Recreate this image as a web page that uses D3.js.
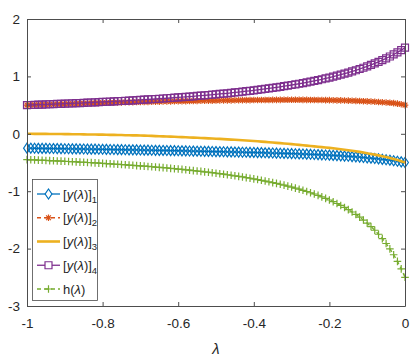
<!DOCTYPE html>
<html>
<head>
<meta charset="utf-8">
<script src="https://cdn.jsdelivr.net/npm/d3@7"></script>
<style>
  body { margin: 0; background: #fff; }
  svg { display: block; font-family: "Liberation Sans", Arial, sans-serif; }
</style>
</head>
<body>
<svg id="chart" width="415" height="360"></svg>
<script>
// lambda grid, -1 .. 0 in steps of 0.01
var lambda = d3.range(101).map(function(i) { return Math.round((-1 + i / 100) * 100) / 100; });

var xTicks = [-1, -0.8, -0.6, -0.4, -0.2, 0];
var yTicks = [-3, -2, -1, 0, 1, 2];

// [y(lambda)]_1
var y1 = [-0.250,-0.251,-0.252,-0.253,-0.254,-0.255,-0.256,-0.257,-0.258,-0.259,-0.260,
  -0.261,-0.262,-0.263,-0.264,-0.265,-0.266,-0.267,-0.268,-0.269,-0.270,
  -0.271,-0.273,-0.274,-0.275,-0.276,-0.278,-0.279,-0.280,-0.281,-0.283,
  -0.284,-0.285,-0.286,-0.288,-0.289,-0.290,-0.291,-0.293,-0.294,-0.295,
  -0.297,-0.298,-0.300,-0.301,-0.303,-0.304,-0.306,-0.307,-0.309,-0.310,
  -0.312,-0.313,-0.315,-0.316,-0.318,-0.319,-0.321,-0.322,-0.324,-0.325,
  -0.327,-0.329,-0.331,-0.333,-0.335,-0.337,-0.339,-0.341,-0.343,-0.345,
  -0.347,-0.350,-0.352,-0.355,-0.357,-0.360,-0.363,-0.366,-0.369,-0.372,
  -0.376,-0.380,-0.384,-0.388,-0.392,-0.397,-0.402,-0.407,-0.413,-0.419,
  -0.425,-0.431,-0.438,-0.445,-0.452,-0.460,-0.469,-0.478,-0.489,-0.500];

// [y(lambda)]_2
var y2 = [0.500,0.502,0.504,0.506,0.508,0.510,0.512,0.514,0.516,0.518,0.520,
  0.522,0.524,0.526,0.528,0.530,0.532,0.534,0.536,0.538,0.540,
  0.541,0.543,0.544,0.546,0.547,0.549,0.550,0.552,0.553,0.555,
  0.556,0.557,0.559,0.560,0.561,0.563,0.564,0.565,0.567,0.568,
  0.569,0.570,0.571,0.572,0.574,0.575,0.576,0.577,0.578,0.579,
  0.580,0.581,0.582,0.583,0.584,0.585,0.586,0.587,0.587,0.588,
  0.589,0.589,0.590,0.590,0.591,0.591,0.591,0.592,0.592,0.592,
  0.592,0.592,0.591,0.591,0.590,0.590,0.589,0.588,0.587,0.586,
  0.585,0.583,0.582,0.580,0.578,0.576,0.574,0.571,0.568,0.565,
  0.562,0.558,0.554,0.550,0.545,0.540,0.534,0.525,0.514,0.500];

// [y(lambda)]_3
var y3 = [0.000,-0.000,-0.001,-0.001,-0.002,-0.002,-0.003,-0.003,-0.004,-0.004,-0.005,
  -0.006,-0.007,-0.008,-0.009,-0.010,-0.011,-0.012,-0.013,-0.014,-0.015,
  -0.016,-0.018,-0.019,-0.021,-0.022,-0.024,-0.025,-0.027,-0.028,-0.030,
  -0.032,-0.035,-0.037,-0.040,-0.042,-0.045,-0.047,-0.050,-0.052,-0.055,
  -0.058,-0.061,-0.064,-0.067,-0.070,-0.073,-0.076,-0.079,-0.082,-0.085,
  -0.089,-0.093,-0.097,-0.101,-0.105,-0.109,-0.113,-0.117,-0.121,-0.125,
  -0.130,-0.136,-0.141,-0.147,-0.152,-0.158,-0.163,-0.169,-0.174,-0.180,
  -0.186,-0.193,-0.199,-0.206,-0.212,-0.219,-0.225,-0.232,-0.238,-0.245,
  -0.253,-0.261,-0.270,-0.278,-0.287,-0.296,-0.305,-0.315,-0.327,-0.340,
  -0.351,-0.363,-0.376,-0.390,-0.404,-0.420,-0.437,-0.456,-0.477,-0.500];

// [y(lambda)]_4
var y4 = [0.500,0.502,0.505,0.507,0.510,0.512,0.515,0.517,0.520,0.522,0.525,
  0.528,0.531,0.533,0.536,0.539,0.542,0.545,0.548,0.551,0.555,
  0.558,0.561,0.564,0.568,0.571,0.575,0.579,0.582,0.586,0.590,
  0.594,0.598,0.602,0.606,0.611,0.615,0.619,0.624,0.629,0.633,
  0.638,0.643,0.648,0.653,0.659,0.664,0.670,0.676,0.681,0.688,
  0.694,0.700,0.706,0.713,0.720,0.727,0.734,0.742,0.749,0.757,
  0.765,0.774,0.782,0.791,0.800,0.809,0.819,0.829,0.839,0.850,
  0.861,0.872,0.884,0.896,0.909,0.922,0.936,0.950,0.965,0.980,
  0.996,1.013,1.030,1.048,1.067,1.086,1.107,1.129,1.151,1.175,
  1.200,1.226,1.254,1.283,1.314,1.347,1.382,1.419,1.458,1.500];

// h(lambda)
var h = [-0.450,-0.453,-0.455,-0.458,-0.461,-0.464,-0.467,-0.470,-0.473,-0.476,-0.479,
  -0.483,-0.486,-0.489,-0.493,-0.496,-0.500,-0.503,-0.507,-0.511,-0.515,
  -0.519,-0.523,-0.527,-0.531,-0.535,-0.540,-0.544,-0.549,-0.554,-0.559,
  -0.563,-0.569,-0.574,-0.579,-0.585,-0.590,-0.596,-0.602,-0.608,-0.614,
  -0.620,-0.627,-0.634,-0.641,-0.648,-0.655,-0.663,-0.670,-0.678,-0.687,
  -0.695,-0.704,-0.713,-0.722,-0.732,-0.742,-0.752,-0.763,-0.774,-0.785,
  -0.797,-0.810,-0.823,-0.836,-0.850,-0.864,-0.879,-0.895,-0.911,-0.928,
  -0.946,-0.965,-0.984,-1.005,-1.027,-1.049,-1.073,-1.098,-1.125,-1.153,
  -1.183,-1.214,-1.248,-1.283,-1.321,-1.362,-1.405,-1.452,-1.503,-1.557,
  -1.616,-1.680,-1.750,-1.826,-1.911,-2.004,-2.107,-2.223,-2.353,-2.500];

var seriesNames = ['1', '2', '3', '4', 'h'];

var svg = d3.select('#chart');
var mLeft = 27, mRight = 405, mTop = 19, mBottom = 306;
var axisColor = '#4d4d4d';

var xScale = d3.scaleLinear().domain([-1, 0]).range([mLeft, mRight]);
var yScale = d3.scaleLinear().domain([-3, 2]).range([mBottom, mTop]);

// tick labels with plain hyphen like the original
function fmt(d) { return String(d); }

// marker shapes as path strings around (0,0)
function diamond() { return 'M0,-5L3.4,0L0,5L-3.4,0Z'; }
function square() { return 'M-3.5,-3.5H3.5V3.5H-3.5Z'; }
function plus() { return 'M-3.8,0H3.8M0,-3.8V3.8'; }
function star() { return 'M-3.3,0H3.3M-2.4,-2.4L2.4,2.4M-2.4,2.4L2.4,-2.4M0,-3.3V3.3'; }

var series = [
  { key: '1', vals: y1, color: '#0072BD', dash: null, marker: diamond, width: 1.3 },
  { key: '2', vals: y2, color: '#D95319', dash: '4,3', marker: star, width: 1.3 },
  { key: '3', vals: y3, color: '#EDB120', dash: null, marker: null, width: 2.6 },
  { key: '4', vals: y4, color: '#7E2F8E', dash: null, marker: square, width: 1.3 },
  { key: 'h', vals: h, color: '#77AC30', dash: '4,3', marker: plus, width: 1.3 }
];

var plot = svg.append('g');

var line = d3.line()
  .x(function(d) { return xScale(d[0]); })
  .y(function(d) { return yScale(d[1]); });

series.forEach(function(s) {
  var pts = lambda.map(function(l, i) { return [l, s.vals[i]]; });
  plot.append('path')
    .attr('d', line(pts))
    .attr('fill', 'none')
    .attr('stroke', s.color)
    .attr('stroke-width', s.width)
    .attr('stroke-dasharray', s.dash);
  if (s.marker) {
    plot.selectAll('.m' + s.key)
      .data(pts)
      .enter()
      .append('path')
      .attr('class', 'm' + s.key)
      .attr('transform', function(d) { return 'translate(' + xScale(d[0]) + ',' + yScale(d[1]) + ')'; })
      .attr('d', s.marker())
      .attr('fill', 'none')
      .attr('stroke', s.color)
      .attr('stroke-width', 1.2);
  }
});

// axes: box with inward ticks on all four sides
var xAxis = d3.axisBottom(xScale).tickValues(xTicks).tickSizeInner(-4).tickSizeOuter(0).tickPadding(12).tickFormat(fmt);
var yAxis = d3.axisLeft(yScale).tickValues(yTicks).tickSizeInner(-4).tickSizeOuter(0).tickPadding(7).tickFormat(fmt);

var gx = svg.append('g').attr('transform', 'translate(0,' + mBottom + ')').call(xAxis);
var gy = svg.append('g').attr('transform', 'translate(' + mLeft + ',0)').call(yAxis);
var gxTop = svg.append('g').attr('transform', 'translate(0,' + mTop + ')')
  .call(d3.axisTop(xScale).tickValues(xTicks).tickSizeInner(-4).tickSizeOuter(0).tickFormat(''));
var gyRight = svg.append('g').attr('transform', 'translate(' + mRight + ',0)')
  .call(d3.axisRight(yScale).tickValues(yTicks).tickSizeInner(-4).tickSizeOuter(0).tickFormat(''));

[gx, gy, gxTop, gyRight].forEach(function(g) {
  g.select('.domain').attr('stroke', axisColor).attr('stroke-width', 1);
  g.selectAll('.tick line').attr('stroke', axisColor);
  g.selectAll('.tick text').attr('fill', '#262626').style('font-size', '13.5px')
    .style('font-family', '"Liberation Sans", Arial, sans-serif');
});

svg.append('text')
  .attr('x', (mLeft + mRight) / 2)
  .attr('y', 354)
  .attr('text-anchor', 'middle')
  .attr('fill', '#262626')
  .style('font-size', '15px')
  .style('font-style', 'italic')
  .text('λ');

// legend
var legend = svg.append('g');
legend.append('rect')
  .attr('x', 32.5).attr('y', 179.5)
  .attr('width', 65).attr('height', 121)
  .attr('fill', '#fff')
  .attr('stroke', axisColor)
  .attr('stroke-width', 0.8);

var legendY = d3.scalePoint().domain(seriesNames).range([194, 289]);

series.forEach(function(s) {
  var ly = legendY(s.key);
  legend.append('line')
    .attr('x1', 37).attr('x2', 60).attr('y1', ly).attr('y2', ly)
    .attr('stroke', s.color)
    .attr('stroke-width', s.width)
    .attr('stroke-dasharray', s.dash);
  if (s.marker) {
    legend.append('path')
      .attr('transform', 'translate(48.5,' + ly + ')')
      .attr('d', s.marker())
      .attr('fill', s.key === '1' || s.key === '4' ? '#fff' : 'none')
      .attr('stroke', s.color)
      .attr('stroke-width', 1.2);
  }
  var t = legend.append('text')
    .attr('x', 63).attr('y', ly + 4.5)
    .attr('fill', '#262626')
    .style('font-size', '13px');
  if (s.key === 'h') {
    t.append('tspan').text('h(');
    t.append('tspan').style('font-style', 'italic').text('λ');
    t.append('tspan').text(')');
  } else {
    t.append('tspan').text('[');
    t.append('tspan').style('font-style', 'italic').text('y');
    t.append('tspan').text('(');
    t.append('tspan').style('font-style', 'italic').text('λ');
    t.append('tspan').text(')]');
    t.append('tspan').attr('dy', 4).style('font-size', '9.5px').text(s.key);
  }
});
</script>
</body>
</html>
